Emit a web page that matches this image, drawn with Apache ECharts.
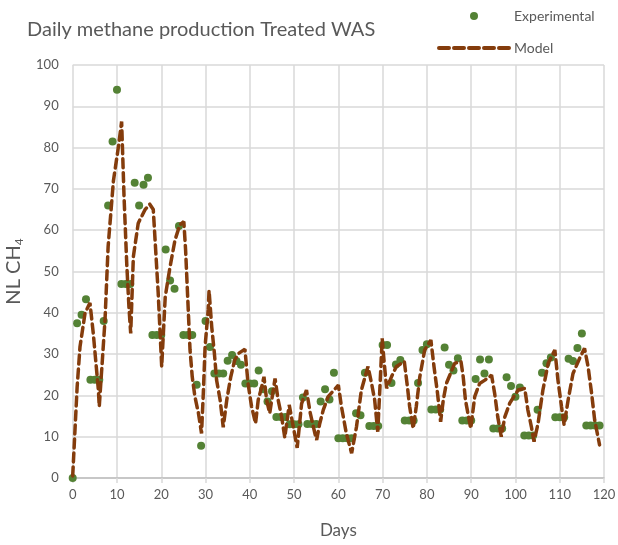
<!DOCTYPE html>
<html>
<head>
<meta charset="utf-8">
<script src="https://cdn.jsdelivr.net/npm/echarts@6/dist/echarts.min.js"></script>
<style>
  html, body { margin: 0; padding: 0; background: #fff; }
  #chart { width: 618px; height: 545px; }
</style>
</head>
<body>
<div id="chart"></div>
<script>
// experimental: one value per day, index = day
const expValues = [
  0, 37.5, 39.5, 43.3, 23.8, 23.8, 23.8, 38, 66, 81.5,
  94, 47, 47, 47, 71.5, 66, 71, 72.7, 34.6, 34.6,
  34.6, 55.3, 47.8, 45.8, 61, 34.6, 34.6, 34.6, 22.6, 7.8,
  38, 31.7, 25.3, 25.3, 25.3, 28.4, 29.8, 28.3, 27.4, 22.9,
  22.9, 22.9, 26, 21.5, 18.5, 21, 14.8, 14.8, 14.8, 13,
  13, 13, 19.5, 13.1, 13.1, 13.1, 18.5, 21.5, 19, 25.5,
  9.6, 9.6, 9.6, 9.6, 15.7, 15.2, 25.5, 12.6, 12.6, 12.6,
  32.2, 32.2, 23, 27.5, 28.6, 13.9, 13.9, 13.9, 23, 31,
  32.4, 16.6, 16.6, 16.6, 31.6, 27.4, 26, 29, 13.9, 13.9,
  13.9, 24, 28.7, 25.3, 28.7, 12, 12, 12, 24.4, 22.3,
  19.7, 21.9, 10.3, 10.3, 10.3, 16.5, 25.5, 27.8, 29.2, 14.7,
  14.7, 14.7, 28.9, 28.3, 31.5, 35, 12.7, 12.7, 12.7, 12.7
];

// model curve, traced points
const modelDays = [
  0, 1, 1.65, 2.8, 3.9, 4.65, 5.8, 6.0, 7.3, 8.0,
  9.2, 10.3, 11.05, 11.6, 12.2, 12.7, 13.1, 13.7, 14.8, 16.3,
  17.4, 18.2, 19.3, 20.1, 20.9, 22.0, 23.1, 24.2, 25.1, 25.5,
  26.0, 26.5, 27.0, 27.6, 28.4, 29.1, 29.5, 29.9, 30.6, 30.8,
  31.4, 32.0, 32.5, 33.3, 34.0, 34.8, 35.7, 36.6, 37.5, 38.9,
  39.6, 40.4, 41.3, 41.9, 42.7, 43.2, 43.8, 44.5, 45.7, 46.4,
  47.2, 47.9, 48.9, 50.7, 51.7, 52.8, 53.6, 54.7, 55.1, 55.8,
  56.6, 57.7, 60.0, 60.7, 61.8, 63.0, 64.1, 65.2, 66.7, 67.5,
  68.2, 68.9, 69.4, 69.9, 70.3, 70.9, 72.0, 73.1, 74.9, 75.6,
  76.1, 76.9, 77.6, 78.4, 79.5, 80.9, 81.6, 82.4, 83.1, 83.7,
  84.4, 86.3, 87.7, 88.2, 88.7, 89.9, 90.8, 91.9, 93.1, 94.6,
  95.3, 96.0, 96.8, 97.6, 98.7, 100.6, 102.1, 102.8, 103.6, 104.2,
  105.1, 106.2, 107.4, 108.9, 109.6, 110.4, 111.0, 111.9, 113.0, 114.5,
  115.6, 116.4, 117.2, 117.9, 119.0
];
const modelValues = [
  0.5, 22, 31.8, 40, 42.4, 35, 21.3, 17.3, 38.3, 56,
  72, 80, 86.3, 68, 52, 41.5, 35, 53.6, 61.7, 64.9,
  66.3, 65, 45, 27, 43.9, 51.2, 57.6, 61.3, 62.1, 55.2,
  43.1, 31, 24.5, 19.7, 15.7, 10.8, 20.5, 31.8, 40.7, 45.4,
  36.6, 30.2, 23.7, 18.9, 12.3, 18.9, 24.5, 28.6, 30.2, 31.2,
  22.9, 17.3, 13.2, 18.9, 22.1, 24.5, 18.9, 15.7, 24.1, 18.9,
  14.8, 9.8, 17.7, 7.3, 18, 21.3, 16, 10.8, 9.2, 13.2,
  16.5, 19.7, 22.5, 17.3, 10.8, 6, 12.4, 21.3, 27, 22.9,
  18.9, 11.2, 22.1, 33.8, 28.6, 21.7, 24.5, 27, 28.2, 22.1,
  17.3, 12, 17.3, 24.5, 31, 33.4, 27, 20.5, 13.6, 18.9,
  22.9, 27.8, 28.2, 24.5, 18.9, 12, 19.7, 22.9, 23.7, 24.9,
  20.5, 14.8, 10, 14.8, 18.1, 21.3, 21.7, 16.5, 12.4, 8.8,
  13.2, 21.3, 27.8, 31, 23.7, 17.3, 12.8, 18.9, 25.3, 29,
  31.4, 27, 20.5, 14, 8
];

const textColor = '#595959';
const gridColor = '#d9d9d9';
const modelColor = '#843c0c';

const chart = echarts.init(document.getElementById('chart'));

const option = {
  animation: false,
  title: {
    text: 'Daily methane production Treated WAS',
    left: 22,
    top: 15,
    textStyle: {
      fontFamily: 'Lato',
      fontWeight: 'normal',
      fontSize: 20,
      color: textColor
    }
  },
  legend: {
    orient: 'vertical',
    left: 432,
    top: 4,
    itemWidth: 70,
    itemHeight: 8,
    itemGap: 18,
    textStyle: { fontFamily: 'Lato', fontSize: 14, color: textColor },
    data: [
      { name: 'Experimental', icon: 'circle' },
      {
        name: 'Model',
        itemStyle: { opacity: 0 },
        lineStyle: { color: modelColor, width: 4, type: [10, 5], cap: 'round' }
      }
    ]
  },
  grid: {
    left: 72.7,
    right: 14,
    top: 65,
    bottom: 67,
    containLabel: false,
    outerBoundsMode: 'none'
  },
  xAxis: {
    type: 'value',
    min: 0,
    max: 120,
    interval: 10,
    name: 'Days',
    nameLocation: 'middle',
    nameGap: 44,
    nameTextStyle: { fontFamily: 'Lato', fontSize: 17, color: textColor },
    axisLine: { lineStyle: { color: '#bfbfbf', width: 1.5 } },
    axisTick: { show: true, length: 5, lineStyle: { color: gridColor, width: 1.5 } },
    axisLabel: { fontFamily: 'Lato', fontSize: 13, color: textColor, margin: 10 },
    splitLine: { lineStyle: { color: gridColor, width: 1.5 } }
  },
  yAxis: {
    type: 'value',
    min: 0,
    max: 100,
    interval: 10,
    name: 'NL CH{sub|4}',
    nameLocation: 'middle',
    nameGap: 38,
    nameTextStyle: {
      fontFamily: 'Lato',
      fontSize: 20,
      color: textColor,
      rich: {
        sub: { fontFamily: 'Lato', fontSize: 12, color: textColor, padding: [12, 0, 0, 0] }
      }
    },
    axisLine: { show: false },
    axisTick: { show: false },
    axisLabel: { fontFamily: 'Lato', fontSize: 13, color: textColor, margin: 14 },
    splitLine: { lineStyle: { color: gridColor, width: 1.5 } }
  },
  series: [
    {
      name: 'Experimental',
      type: 'scatter',
      symbol: 'circle',
      symbolSize: 8,
      itemStyle: { color: '#548235', opacity: 1 },
      data: expValues.map((v, i) => [i, v])
    },
    {
      name: 'Model',
      type: 'line',
      symbol: 'none',
      showSymbol: false,
      lineStyle: {
        color: modelColor,
        width: 3.5,
        type: [9, 5],
        cap: 'round'
      },
      itemStyle: { color: modelColor },
      data: modelDays.map((d, i) => [d, modelValues[i]])
    }
  ]
};

chart.setOption(option);
</script>
</body>
</html>
